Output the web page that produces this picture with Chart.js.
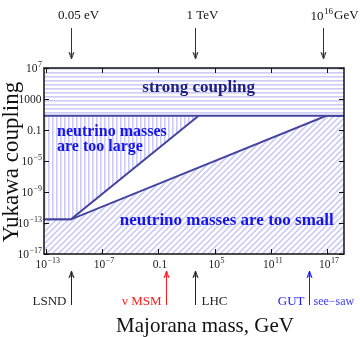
<!DOCTYPE html>
<html><head><meta charset="utf-8">
<script src="https://cdn.jsdelivr.net/npm/chart.js@4"></script>
<style>html,body{margin:0;padding:0;background:#fff}#wrap{width:360px;height:337px;position:relative}</style>
</head><body><div id="wrap"><canvas id="c" width="360" height="337" style="width:360px;height:337px"></canvas></div>
<script>
// ---- data ----
const massRange = [6.6e-14, 6.3e18];
const couplingRange = [1e-17, 1e7];
const xTicks = [1e-13, 1e-7, 0.1, 1e5, 1e11, 1e17];
const yTicks = [1e7, 1000, 0.1, 1e-5, 1e-9, 1e-13, 1e-17];
const strongCoupling = 7;
const kinkMass = 5e-11;
const floorCoupling = 3e-13;
const largeEndMass = 2e3;
const smallEndMass = 8e16;
const topLabels = ['0.05 eV', '1 TeV', '10|16|GeV'];
const topMasses = [5e-11, 8e2, 4e16];
const bottomLabels = ['LSND', 'ν MSM', 'LHC', 'GUT'];
const bottomMasses = [5e-11, 0.65, 8e2, 1.3e15];
const bottomColors = ['#222', '#ff1a1a', '#222', '#1a1aff'];
const bottomSides = ['left', 'left', 'right', 'left'];
const regionTexts = ['strong coupling', 'neutrino masses', 'are too large', 'neutrino masses are too small'];
const regionMass = [2e3, 1.6e-12, 1.6e-12, 2e6];
const regionCoupling = [3e4, 0.065, 6.3e-4, 1.9e-13];
const regionFontSize = [17, 16, 16, 17];

const SERIF = '"Liberation Serif", "DejaVu Serif", serif';
const LINE = 'rgb(68,68,160)';
const LAV = 'rgb(204,204,246)';

function pattern(kind) {
  const c = document.createElement('canvas');
  const s = kind === 'diag' ? 6 : 4;
  c.width = s; c.height = s;
  const g = c.getContext('2d');
  g.fillStyle = '#fff'; g.fillRect(0, 0, s, s);
  g.fillStyle = LAV; g.strokeStyle = LAV;
  if (kind === 'h') g.fillRect(0, 0, s, 1.6);
  else if (kind === 'v') g.fillRect(0, 0, 1.6, s);
  else {
    g.lineWidth = 1.6;
    g.beginPath();
    g.moveTo(-1, s + 1); g.lineTo(s + 1, -1);
    g.moveTo(-1, 1); g.lineTo(1, -1);
    g.moveTo(s - 1, s + 1); g.lineTo(s + 1, s - 1);
    g.stroke();
  }
  return g.createPattern(c, 'repeat');
}

function drawPow(ctx, base, exp, x, y, align, size, color) {
  ctx.save();
  ctx.fillStyle = color || '#222';
  ctx.textBaseline = 'middle';
  ctx.textAlign = 'left';
  ctx.font = size + 'px ' + SERIF;
  const wb = ctx.measureText(base).width;
  ctx.font = Math.round(size * 0.72) + 'px ' + SERIF;
  const we = ctx.measureText(exp).width;
  const w = wb + we + 0.5;
  let x0 = align === 'center' ? x - w / 2 : align === 'right' ? x - w : x;
  ctx.font = size + 'px ' + SERIF;
  ctx.fillText(base, x0, y);
  ctx.font = Math.round(size * 0.72) + 'px ' + SERIF;
  ctx.fillText(exp, x0 + wb + 0.5, y - size * 0.38);
  ctx.restore();
  return w;
}

function tickText(v) {
  if (v === 0.1) return ['0.1', ''];
  if (v === 1000) return ['1000', ''];
  const e = Math.round(Math.log10(v));
  return ['10', String(e).replace('-', '−')];
}

function arrow(ctx, x, y1, y2, color) {
  ctx.save();
  ctx.strokeStyle = color; ctx.lineWidth = 1;
  ctx.beginPath(); ctx.moveTo(x, y1); ctx.lineTo(x, y2); ctx.stroke();
  const d = y2 > y1 ? -1 : 1;
  ctx.beginPath();
  ctx.moveTo(x - 2.5, y2 + d * 7); ctx.lineTo(x, y2); ctx.lineTo(x + 2.5, y2 + d * 7);
  ctx.stroke();
  ctx.beginPath(); ctx.moveTo(x - 1.5, y2 + d * 5); ctx.lineTo(x + 1.5, y2 + d * 5); ctx.stroke();
  ctx.restore();
}

const deco = {
  id: 'deco',
  afterDraw(chart) {
    const ctx = chart.ctx, xs = chart.scales.x, ys = chart.scales.y, ca = chart.chartArea;
    ctx.save();
    ctx.strokeStyle = '#111'; ctx.lineWidth = 1.5;
    ctx.strokeRect(ca.left, ca.top, ca.right - ca.left, ca.bottom - ca.top);
    ctx.lineWidth = 1;
    ctx.beginPath();
    xTicks.forEach(v => {
      const px = Math.round(xs.getPixelForValue(v)) + 0.5;
      ctx.moveTo(px, ca.bottom); ctx.lineTo(px, ca.bottom - 5);
      ctx.moveTo(px, ca.top); ctx.lineTo(px, ca.top + 5);
    });
    yTicks.forEach(v => {
      const py = Math.round(ys.getPixelForValue(v)) + 0.5;
      ctx.moveTo(ca.left, py); ctx.lineTo(ca.left + 5, py);
      ctx.moveTo(ca.right, py); ctx.lineTo(ca.right - 5, py);
    });
    ctx.stroke();
    xTicks.forEach(v => {
      const [b, e] = tickText(v);
      drawPow(ctx, b, e, xs.getPixelForValue(v) + 2, ca.bottom + 11, 'center', 11.5);
    });
    yTicks.forEach(v => {
      const [b, e] = tickText(v);
      drawPow(ctx, b, e, ca.left - 2, ys.getPixelForValue(v) + 1, 'right', 11.5);
    });
    ctx.fillStyle = '#111';
    ctx.font = '21px ' + SERIF;
    ctx.textAlign = 'center'; ctx.textBaseline = 'middle';
    ctx.fillText('Majorana mass, GeV', 205, 326);
    ctx.save();
    ctx.translate(12, 162); ctx.rotate(-Math.PI / 2);
    ctx.font = '23px ' + SERIF;
    ctx.fillText('Yukawa coupling', 0, 0);
    ctx.restore();
    regionTexts.forEach((t, i) => {
      ctx.font = 'bold ' + regionFontSize[i] + 'px ' + SERIF;
      ctx.fillStyle = i === 0 ? 'rgb(32,32,128)' : 'rgb(20,20,235)';
      ctx.textAlign = (i === 1 || i === 2) ? 'left' : 'center';
      ctx.fillText(t, xs.getPixelForValue(regionMass[i]), ys.getPixelForValue(regionCoupling[i]));
    });
    topMasses.forEach((m, i) => {
      const px = Math.round(xs.getPixelForValue(m)) + 0.5;
      arrow(ctx, px, 28, 59, '#333');
      const parts = topLabels[i].split('|');
      ctx.fillStyle = '#111';
      ctx.font = '13px ' + SERIF; ctx.textBaseline = 'middle';
      if (parts.length === 1) {
        ctx.textAlign = 'center';
        ctx.fillText(parts[0], px + 7, 16);
      } else {
        const w = drawPow(ctx, parts[0], parts[1], px - 13, 17, 'left', 13, '#111');
        ctx.textAlign = 'left';
        ctx.font = '13px ' + SERIF;
        ctx.fillText(parts[2], px - 13 + w + 1, 16);
      }
    });
    bottomMasses.forEach((m, i) => {
      const px = Math.round(xs.getPixelForValue(m)) + 0.5;
      arrow(ctx, px, 305, 271, bottomColors[i]);
      ctx.fillStyle = bottomColors[i];
      ctx.font = '13px ' + SERIF; ctx.textBaseline = 'middle';
      if (bottomSides[i] === 'left') { ctx.textAlign = 'right'; ctx.fillText(bottomLabels[i], px - 5, 302); }
      else { ctx.textAlign = 'left'; ctx.fillText(bottomLabels[i], px + 6, 302); }
      if (i === 3) {
        ctx.font = '12px ' + SERIF; ctx.textAlign = 'left';
        ctx.fillStyle = 'rgb(60,60,255)';
        ctx.fillText('see−saw', px + 4, 302);
      }
    });
    ctx.restore();
  }
};

const lineStyle = { borderColor: LINE, borderWidth: 2, pointRadius: 0, tension: 0 };

new Chart(document.getElementById('c'), {
  type: 'line',
  data: {
    datasets: [
      Object.assign({
        data: [{ x: massRange[0], y: strongCoupling }, { x: massRange[1], y: strongCoupling }],
        fill: 'end', backgroundColor: pattern('h')
      }, lineStyle),
      Object.assign({
        data: [{ x: massRange[0], y: floorCoupling }, { x: kinkMass, y: floorCoupling }, { x: largeEndMass, y: strongCoupling }],
        fill: 'end', backgroundColor: pattern('v')
      }, lineStyle),
      Object.assign({
        data: [{ x: massRange[0], y: floorCoupling }, { x: kinkMass, y: floorCoupling }, { x: smallEndMass, y: strongCoupling }, { x: massRange[1], y: strongCoupling }],
        fill: 'start', backgroundColor: pattern('diag')
      }, lineStyle)
    ]
  },
  options: {
    responsive: false,
    animation: false,
    layout: { padding: { left: 44, right: 16, top: 68, bottom: 83 } },
    plugins: { legend: { display: false }, tooltip: { enabled: false } },
    scales: {
      x: { type: 'logarithmic', min: massRange[0], max: massRange[1], display: false },
      y: { type: 'logarithmic', min: couplingRange[0], max: couplingRange[1], display: false }
    }
  },
  plugins: [deco]
});
</script></body></html>
